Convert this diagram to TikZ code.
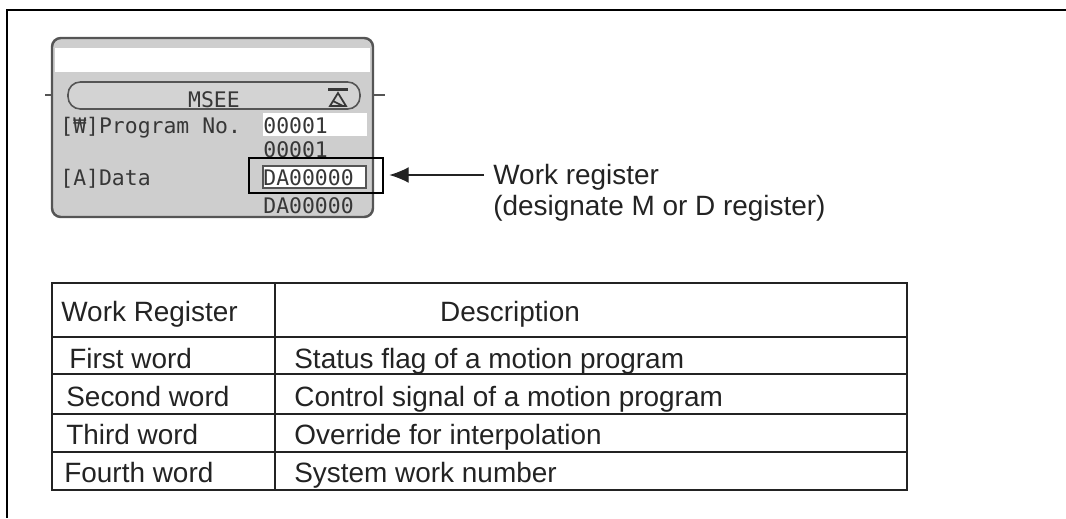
\documentclass[tikz,border=0pt]{standalone}
\usepackage{fontspec}
\setmainfont{Liberation Sans}
\newfontfamily\lcdfont{DejaVu Sans Mono}
\usetikzlibrary{arrows.meta, positioning, fit}
\definecolor{ink}{RGB}{35,35,35}
\definecolor{lcdfill}{RGB}{206,206,206}
\definecolor{lcdedge}{RGB}{85,85,85}
\definecolor{lcdtext}{RGB}{55,55,55}
\tikzset{
  frame/.style={line width=1.15pt, color=black},
  grid/.style={line width=0.9pt, color=ink},
  cell/.style={font=\fontsize{15.9}{18}\selectfont, text=ink, inner sep=0pt},
  lcd/.style={font=\lcdfont\fontsize{12.2}{14}\selectfont, text=lcdtext, inner sep=0pt},
  panel/.style={draw=lcdedge, fill=lcdfill, line width=1.4pt, rounded corners=5pt},
  pill/.style={draw=lcdedge, fill=lcdfill!90!white, line width=0.9pt, rounded corners=7pt},
  lcdline/.style={line width=0.7pt, color=lcdedge},
  hibox/.style={draw=black, line width=1.3pt, inner sep=0pt},
  arrow/.style={-{Latex[length=11pt,width=9pt]}, line width=0.6pt, color=ink}
}

\begin{document}
\begin{tikzpicture}[x=0.02cm, y=-0.02cm]
  \useasboundingbox (0,0) rectangle (1066,518);
  % outer frame, top and left side only
  \draw[frame] (1066,10) -- (7,10) -- (7,518);

  % Screen panel
  \draw[lcdline] (45,95) -- (385,95);
  \draw[panel] (52,38) rectangle (373,217);
  \fill[white] (55,48) rectangle (370,72);
  \draw[lcdline] (45,95) -- (52,95) (373,95) -- (385,95);
  \draw[pill] (68,82) rectangle (360,109);
  \node[lcd, anchor=base] (title) at (214,107) {MSEE};
  \fill[lcdtext] (328,88) rectangle (348,91); % icon
  \draw[lcdtext, line width=1pt] (330,106) -- (338,93) -- (346,106) -- cycle (333,101) -- (343,106);
  \fill[white] (263,113) rectangle (367,136);
  \node[lcd, anchor=base west] (progtag) at (60,133) {[₩]Program No.};
  \node[lcd, anchor=base west] (progset) at (263,133) {00001};
  \node[lcd, anchor=base west] (progcur) at (263,157) {00001};
  \draw[fill=white, draw=lcdedge, line width=0.6pt] (263,166) rectangle (366,188);
  \node[lcd, anchor=base west] (datatag) at (60,185) {[A]Data};
  \node[lcd, anchor=base west] (dataset) at (263,185) {DA00000};
  \node[lcd, anchor=base west] (datacur) at (263,213) {DA00000};
  \node[hibox, fit={(249,158) (383,193)}] (databox) {};

  % Callout
  \node[cell, anchor=base west] (wrnote) at (493,184) {Work register};
  \node[cell, anchor=base west] (wrnote2) at (493,215) {(designate M or D register)};
  \coordinate (wrtail) at (484,175);
  \draw[arrow, shorten >=3pt] (wrtail) -- (databox.east |- wrtail);

  % Table
  \draw[grid] (52,283) rectangle (907,490);
  \draw[grid] (275,283) -- (275,490);
  \draw[grid] (52,337) -- (907,337) (52,374) -- (907,374) (52,414) -- (907,414) (52,452) -- (907,452);
  \node[cell, anchor=base west] (hdrreg) at (61,321) {Work Register};
  \node[cell, anchor=base] (hdrdesc) at (510,321) {Description};
  \node[cell, anchor=base west] (reg1) at (69,368) {First word};
  \node[cell, anchor=base west] (reg2) at (66,406) {Second word};
  \node[cell, anchor=base west] (reg3) at (66,444) {Third word};
  \node[cell, anchor=base west] (reg4) at (64,482) {Fourth word};
  \node[cell, anchor=base west] (desc1) at (294,368) {Status flag of a motion program};
  \node[cell, anchor=base west] (desc2) at (294,406) {Control signal of a motion program};
  \node[cell, anchor=base west] (desc3) at (294,444) {Override for interpolation};
  \node[cell, anchor=base west] (desc4) at (294,482) {System work number};
\end{tikzpicture}
\end{document}
